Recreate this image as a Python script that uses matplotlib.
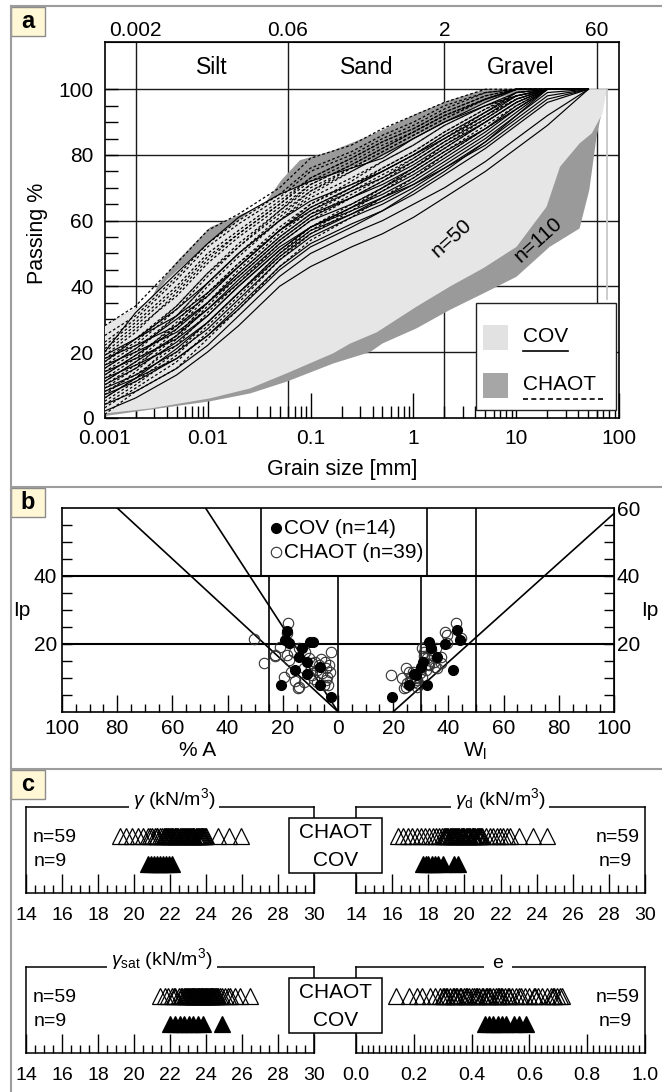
import matplotlib
matplotlib.use('Agg')
import matplotlib.pyplot as plt
from matplotlib.patches import Rectangle
from matplotlib.ticker import FixedLocator, NullLocator, NullFormatter, LogLocator, MultipleLocator, FuncFormatter
import numpy as np

plt.rcParams['font.family'] = ['Liberation Sans', 'DejaVu Sans']
plt.rcParams['mathtext.fontset'] = 'custom'
plt.rcParams['mathtext.rm'] = 'Liberation Sans'
plt.rcParams['mathtext.it'] = 'Liberation Sans:italic'
plt.rcParams['mathtext.bf'] = 'Liberation Sans:bold'

# ---------------- DATA ----------------
# Panel a: grain size curves (passing % at sieve sizes)
sieve_mm = [0.001, 0.002, 0.005, 0.01, 0.02, 0.05, 0.1, 0.25, 0.5, 1, 2, 5, 10, 20, 50]
cov_curves = [
    [2, 6, 13, 20, 28, 40, 46, 52, 56, 61, 67, 75, 82, 89, 100],
    [4, 8, 15, 22, 31, 43, 50, 56, 60, 65, 70, 78, 85, 92, 100],
    [7, 11, 18, 25, 34, 46, 53, 59, 63, 68, 74, 82, 89, 96, 100],
    [9, 13, 20, 27, 36, 48, 55, 61, 65, 70, 76, 84, 91, 98, 100],
    [12, 16, 22, 29, 38, 50, 57, 62, 67, 72, 78, 86, 93, 100, 100],
    [14, 18, 24, 31, 40, 51, 58, 64, 68, 73, 79, 87, 94, 100, 100],
    [16, 20, 26, 33, 42, 53, 60, 65, 70, 75, 81, 88, 95, 100, 100],
    [18, 22, 28, 35, 43, 54, 61, 67, 71, 76, 82, 90, 96, 100, 100],
    [19, 24, 31, 38, 46, 57, 63, 69, 73, 78, 84, 91, 97, 100, 100],
    [10, 15, 23, 31, 40, 51, 58, 64, 69, 74, 80, 88, 94, 100, 100],
    [6, 12, 21, 29, 38, 49, 56, 62, 66, 71, 77, 85, 92, 99, 100],
    [11, 17, 25, 33, 41, 52, 58, 63, 67, 71, 76, 83, 90, 97, 100],
    [15, 21, 30, 37, 46, 57, 64, 70, 75, 80, 85, 92, 98, 100, 100],
    [20, 32, 44, 53, 61, 68, 72, 76, 79, 85, 90, 95, 98, 100, 100],
    [13, 19, 27, 35, 44, 55, 62, 67, 72, 77, 83, 90, 96, 100, 100],
    [8, 12, 18, 25, 33, 45, 52, 58, 63, 69, 75, 84, 92, 100, 100],
    [17, 24, 33, 41, 50, 60, 66, 71, 75, 80, 86, 93, 99, 100, 100],
]
chaot_curves = [
    [28, 34, 47, 57, 62, 70, 79, 83, 88, 92, 96, 100, 100, 100, 100],
    [25, 31, 43, 53, 60, 68, 76, 81, 86, 90, 95, 99, 100, 100, 100],
    [22, 29, 40, 50, 57, 66, 73, 79, 84, 88, 93, 98, 100, 100, 100],
    [20, 27, 37, 47, 55, 64, 71, 77, 82, 87, 92, 97, 100, 100, 100],
    [18, 24, 34, 44, 52, 62, 69, 75, 80, 85, 90, 96, 100, 100, 100],
    [15, 21, 31, 41, 50, 60, 67, 73, 78, 83, 89, 95, 99, 100, 100],
    [13, 19, 28, 38, 47, 58, 65, 71, 76, 81, 87, 94, 98, 100, 100],
    [10, 16, 25, 35, 44, 55, 62, 69, 74, 79, 85, 93, 98, 100, 100],
    [8, 13, 22, 32, 41, 53, 60, 67, 72, 78, 84, 92, 97, 100, 100],
    [5, 11, 20, 29, 38, 50, 58, 65, 70, 76, 82, 90, 96, 100, 100],
    [3, 9, 17, 26, 35, 48, 56, 63, 69, 75, 81, 89, 95, 100, 100],
    [1, 8, 15, 24, 33, 46, 54, 61, 67, 73, 80, 88, 94, 100, 100],
    [12, 18, 29, 40, 49, 60, 68, 75, 80, 85, 90, 96, 100, 100, 100],
    [16, 22, 33, 43, 52, 63, 71, 77, 82, 87, 92, 97, 100, 100, 100],
    [9, 15, 27, 37, 46, 57, 64, 70, 75, 80, 86, 93, 98, 100, 100],
    [6, 12, 24, 34, 43, 54, 61, 68, 73, 79, 85, 92, 97, 100, 100],
    [19, 26, 38, 48, 56, 65, 73, 79, 84, 88, 93, 98, 100, 100, 100],
    [11, 17, 28, 38, 47, 57, 65, 72, 78, 83, 89, 95, 99, 100, 100],
    [4, 10, 19, 28, 37, 49, 57, 64, 70, 76, 83, 91, 97, 100, 100],
    [14, 20, 31, 41, 50, 61, 69, 76, 81, 86, 91, 97, 100, 100, 100],
    [7, 14, 25, 35, 45, 56, 63, 70, 76, 81, 87, 94, 99, 100, 100],
    [17, 23, 34, 44, 53, 63, 70, 76, 81, 86, 91, 97, 100, 100, 100],
    [23, 30, 42, 52, 59, 67, 75, 80, 85, 89, 94, 99, 100, 100, 100],
    [21, 28, 39, 49, 56, 65, 72, 78, 83, 87, 92, 97, 100, 100, 100],
]
# envelopes (n=110 CHAOT, n=50 COV)
chaot_up_d = [0.001, 0.00276, 0.0034, 0.005, 0.0106, 0.0204, 0.035, 0.052, 0.079, 0.167, 0.35, 0.5, 1.07, 2.25, 4.1, 5.5]
chaot_up_p = [28, 35.6, 41, 47.5, 58, 61.7, 64.7, 72.3, 78.4, 81.4, 85.5, 87.6, 92.6, 96.7, 99.2, 100]
chaot_lo_d = [0.001, 0.0106, 0.026, 0.059, 0.166, 0.38, 0.5, 1.07, 2.25, 4.75, 10, 21, 41, 51, 60, 75]
chaot_lo_p = [0.5, 5, 7.4, 11, 16.5, 20, 22.6, 27.2, 32.8, 37.8, 42.9, 52, 57.6, 69.3, 85.5, 100]
cov_up_d = [0.001, 0.00276, 0.004, 0.0106, 0.0258, 0.0586, 0.166, 0.38, 0.5, 1.07, 2.25, 4.75, 10, 15]
cov_up_p = [28, 35.6, 41.9, 53.6, 62.7, 69.3, 74.4, 78.4, 80, 86, 91, 96, 99, 100]
cov_lo_d = [0.001, 0.00276, 0.0106, 0.0258, 0.0586, 0.166, 0.24, 0.44, 1.07, 2.25, 4.75, 10, 19.6, 26.5, 41, 54, 68.6, 75]
cov_lo_p = [1.3, 2.8, 5.9, 8.9, 13.5, 19.6, 22.5, 26, 33.8, 39.9, 45.5, 52, 64.2, 76.4, 83.5, 86.6, 92.6, 100]
class_limits = [0.002, 0.06, 2, 60]
class_limit_labels = ['0.002', '0.06', '2', '60']
class_names = ['Silt', 'Sand', 'Gravel']
class_centers = [0.011, 0.35, 11]

# Panel b: plasticity
cov_clay = [18.4, 19.3, 17.9, 13.0, 10.0, 9.0, 14.2, 11.2, 6.4, 15.4, 11.2, 20.5, 6.4, 2.5]
cov_ip_clay = [23.8, 21.1, 20.1, 18.9, 20.4, 20.6, 16.2, 14.5, 13.3, 12.3, 11.0, 7.9, 7.9, 4.4]
cov_wl = [19.7, 25.7, 32.4, 28.4, 29.9, 30.9, 33.0, 33.8, 36.0, 38.8, 43.0, 44.2, 41.6, 27.6]
cov_ip_wl = [4.4, 7.9, 7.9, 10.8, 13.3, 14.7, 20.4, 18.7, 16.2, 19.9, 24.1, 21.1, 12.3, 11.0]
chaot_clay = [18.1, 18.6, 30.6, 22.7, 26.7, 18.4, 17.9, 14.2, 19.7, 15.5, 14.2, 9.4, 7.6, 4.5, 3.3, 2.5,
              5.7, 4.5, 3.7, 10.6, 8.2, 12.4, 7.6, 5.2, 20.9, 16.0, 11.8, 17.2, 7.0, 9.4, 3.9, 12.4,
              14.5, 23.0, 6.0, 4.8, 10.0, 2.8, 8.8]
chaot_ip_clay = [26.0, 23.3, 21.4, 16.5, 14.3, 16.7, 15.2, 18.7, 10.3, 9.0, 7.4, 14.3, 12.3, 12.8, 13.8, 17.5,
                 11.3, 9.3, 7.9, 15.7, 14.7, 12.8, 8.8, 7.9, 19.1, 17.7, 17.7, 11.8, 13.8, 10.8, 10.3, 8.8,
                 6.9, 16.7, 15.5, 14.6, 12.0, 11.8, 9.6]
chaot_wl = [19.1, 24.7, 25.7, 25.1, 27.5, 28.7, 30.6, 31.1, 31.7, 34.2, 34.7, 33.0, 36.0, 37.2, 38.8, 39.6,
            42.6, 44.5, 29.7, 31.8, 23.3, 24.5, 28.7, 32.4, 35.4, 39.6, 26.6, 33.6, 37.4, 23.8, 30.2, 31.0,
            27.2, 29.5, 32.6, 26.0, 35.0, 30.5, 28.2]
chaot_ip_wl = [10.8, 12.8, 11.8, 8.4, 8.8, 9.3, 10.3, 17.7, 19.1, 16.7, 14.7, 13.8, 12.8, 16.2, 23.6, 22.6,
               26.0, 21.6, 11.3, 12.3, 9.8, 7.4, 7.4, 15.7, 18.7, 20.2, 10.3, 18.2, 14.2, 6.9, 12.6, 16.4,
               11.6, 8.1, 14.0, 9.0, 13.2, 18.8, 10.0]

# Panel c: unit weights and void ratio
gamma_chaot = [19.2, 19.55, 19.9, 20.2, 20.5, 20.75, 21.0, 21.15, 21.3, 21.45, 21.55, 21.65, 21.75, 21.85,
               21.95, 22.0, 22.1, 22.15, 22.25, 22.3, 22.4, 22.45, 22.55, 22.6, 22.7, 22.75, 22.85, 22.9,
               23.0, 23.05, 23.15, 23.2, 23.3, 23.35, 23.45, 23.5, 23.6, 23.65, 23.7, 23.75, 23.8, 23.85,
               23.9, 23.95, 24.0, 22.05, 22.35, 22.65, 22.95, 23.25, 23.55, 21.7, 21.9, 20.9, 21.25,
               24.65, 25.3, 25.95, 23.1]
gamma_cov = [20.75, 20.95, 21.1, 21.3, 21.45, 21.6, 21.8, 21.95, 22.1]
gammad_chaot = [16.3, 16.6, 16.9, 17.1, 17.35, 17.6, 17.8, 18.05, 18.25, 18.45, 18.6, 18.75, 18.85, 18.95,
                19.05, 19.1, 19.2, 19.25, 19.35, 19.4, 19.5, 19.55, 19.65, 19.7, 19.8, 19.85, 19.95, 20.0,
                20.1, 20.15, 20.25, 20.3, 20.4, 20.45, 20.55, 20.6, 20.7, 20.75, 20.85, 20.9, 21.0, 21.2,
                21.4, 21.6, 21.8, 21.95, 22.15, 22.35, 22.5, 23.0, 23.8, 24.6, 19.0, 19.3, 19.6, 19.9,
                20.2, 20.5, 20.8]
gammad_cov = [17.7, 17.85, 18.0, 18.2, 18.35, 18.55, 18.8, 19.45, 19.65]
gammasat_chaot = [21.45, 21.7, 21.9, 22.1, 22.3, 22.5, 22.65, 22.75, 22.85, 22.9, 23.0, 23.05, 23.1, 23.15,
                  23.2, 23.25, 23.3, 23.35, 23.4, 23.45, 23.5, 23.55, 23.6, 23.65, 23.7, 23.75, 23.8, 23.85,
                  23.9, 23.95, 24.0, 24.05, 24.1, 24.15, 24.2, 24.25, 24.3, 24.35, 24.4, 24.45, 24.5, 24.55,
                  24.6, 24.75, 24.9, 25.05, 25.2, 25.35, 25.6, 25.9, 26.45, 22.95, 23.28, 23.62, 23.98,
                  24.32, 24.68, 22.6, 22.2]
gammasat_cov = [22.0, 22.3, 22.55, 22.8, 23.05, 23.3, 23.55, 23.85, 24.9]
e_chaot = [0.14, 0.185, 0.21, 0.23, 0.255, 0.275, 0.29, 0.3, 0.31, 0.315, 0.325, 0.335, 0.34, 0.35, 0.36,
           0.365, 0.375, 0.385, 0.39, 0.4, 0.41, 0.415, 0.425, 0.435, 0.44, 0.45, 0.46, 0.465, 0.475, 0.485,
           0.49, 0.5, 0.505, 0.515, 0.525, 0.54, 0.555, 0.57, 0.585, 0.6, 0.615, 0.63, 0.645, 0.66, 0.675,
           0.685, 0.695, 0.705, 0.712, 0.305, 0.345, 0.38, 0.42, 0.455, 0.495, 0.53, 0.565, 0.62, 0.68]
e_cov = [0.445, 0.46, 0.475, 0.49, 0.505, 0.52, 0.545, 0.565, 0.588]

# ---------------- FIGURE ----------------
W, H = 662, 1092
fig = plt.figure(figsize=(W / 100, H / 100), dpi=100)


def add_ax(x0, y0, x1, y1):
    return fig.add_axes([x0 / W, 1 - y1 / H, (x1 - x0) / W, (y1 - y0) / H])


# ---- Panel a ----
axa = add_ax(104.6, 42.3, 619.4, 417.7)
axa.set_xscale('log')
axa.set_xlim(0.001, 100)
axa.set_ylim(0, 114.3)
for y in [20, 40, 60, 80, 100]:
    axa.axhline(y, color='#1a1a1a', lw=1.0, zorder=1)
for x in class_limits:
    axa.axvline(x, color='#1a1a1a', lw=1.0, zorder=1)
axa.plot([75, 75], [36, 100], color='#c8c8c8', lw=1.3, zorder=1)
axa.fill(np.r_[chaot_up_d, chaot_lo_d[::-1]], np.r_[chaot_up_p, chaot_lo_p[::-1]],
         color='#9a9a9a', lw=0, zorder=2)
axa.fill(np.r_[cov_up_d, cov_lo_d[::-1]], np.r_[cov_up_p, cov_lo_p[::-1]],
         color='#e6e6e6', lw=0, zorder=3)
for c in chaot_curves:
    axa.plot(sieve_mm, c, color='k', lw=0.9, ls=(0, (2.2, 1.8)), zorder=4)
for c in cov_curves:
    axa.plot(sieve_mm, c, color='k', lw=0.85, zorder=4)
for name, xc in zip(class_names, class_centers):
    axa.text(xc, 106.5, name, ha='center', va='center', fontsize=16.5)

axa.set_xticks([0.001, 0.01, 0.1, 1, 10, 100], labels=['0.001', '0.01', '0.1', '1', '10', '100'])
axa.xaxis.set_minor_locator(LogLocator(base=10, subs=np.arange(2, 10), numticks=20))
axa.xaxis.set_minor_formatter(NullFormatter())
axa.tick_params(axis='x', which='major', direction='in', length=18, width=1, labelsize=15, pad=8, top=False)
axa.tick_params(axis='x', which='minor', direction='in', length=9, width=1, top=False)
axa.set_yticks([0, 20, 40, 60, 80, 100])
axa.yaxis.set_minor_locator(FixedLocator([v for v in range(5, 100, 5) if v % 20]))
axa.tick_params(axis='y', which='both', direction='in', length=9, width=1, labelsize=15, pad=8, right=False)
sec = axa.secondary_xaxis('top')
sec.set_xticks(class_limits, labels=class_limit_labels)
sec.xaxis.set_minor_locator(NullLocator())
sec.tick_params(length=0, labelsize=15, pad=2)
for s in axa.spines.values():
    s.set_linewidth(1.2)
axa.set_xlabel('Grain size [mm]', fontsize=15.5)
axa.xaxis.set_label_coords(0.461, -0.11)
axa.set_ylabel('Passing %', fontsize=15.5)
axa.yaxis.set_label_coords(-0.11, 0.49)

# ---- Panel b ----
axb = add_ax(62, 508, 614, 711.7)
axb.set_xlim(-100, 100)
axb.set_ylim(0, 60)
axb.axhline(20, color='k', lw=1.5, zorder=1)
axb.axhline(40, color='k', lw=1.5, zorder=1)
for xv, ybot, ytop in [(-25, 0, 40), (0, 0, 40), (30, 0, 40), (50, 0, 60), (-27.9, 40, 60), (32.2, 40, 60)]:
    axb.plot([xv, xv], [ybot, ytop], color='k', lw=1.2, zorder=1)
axb.plot([0, -80], [0, 60], color='k', lw=1.2, zorder=1)
axb.plot([0, -48], [0, 60], color='k', lw=1.2, zorder=1)
axb.plot([20, 100], [0, 0.73 * 80], color='k', lw=1.2, zorder=1)
axb.plot(-np.array(chaot_clay), chaot_ip_clay, 'o', ms=7.5, mfc='none', mec='#333333', mew=0.8, zorder=3)
axb.plot(chaot_wl, chaot_ip_wl, 'o', ms=7.5, mfc='none', mec='#333333', mew=0.8, zorder=3)
axb.plot(-np.array(cov_clay), cov_ip_clay, 'o', ms=7, mfc='k', mec='k', zorder=4)
axb.plot(cov_wl, cov_ip_wl, 'o', ms=7, mfc='k', mec='k', zorder=4)
axb.plot([-22.5], [54.1], 'o', ms=7, mfc='k', mec='k')
axb.plot([-22.5], [47.0], 'o', ms=7.5, mfc='none', mec='#333333', mew=0.8)
axb.text(-19.6, 54.1, 'COV (n=14)', va='center', ha='left', fontsize=15)
axb.text(-19.6, 47.0, 'CHAOT (n=39)', va='center', ha='left', fontsize=15)
axb.xaxis.set_major_locator(FixedLocator(list(range(-100, 101, 20))))
axb.xaxis.set_major_formatter(FuncFormatter(lambda v, p: '%d' % abs(round(v))))
axb.xaxis.set_minor_locator(MultipleLocator(5))
axb.tick_params(axis='x', which='major', direction='in', length=12, width=1, labelsize=15, pad=5)
axb.tick_params(axis='x', which='minor', direction='in', length=6, width=1)
axb.set_yticks([20, 40])
axb.yaxis.set_minor_locator(FixedLocator([5, 10, 15, 25, 30, 35, 45, 50, 55]))
axb.tick_params(axis='y', which='both', direction='in', length=7, width=1, labelsize=15, pad=3.5,
                left=True, right=True)
secb = axb.secondary_yaxis('right')
secb.set_yticks([20, 40, 60])
secb.yaxis.set_minor_locator(NullLocator())
secb.tick_params(length=0, labelsize=15, pad=2)
for s in axb.spines.values():
    s.set_linewidth(1.2)

# ---- Panel c ----
def strip(box, xlim, major, minor, fmt, chaot_vals, cov_vals):
    ax = add_ax(*box)
    ax.set_xlim(*xlim)
    ax.set_ylim(0, 1)
    ax.set_yticks([])
    ax.xaxis.set_major_locator(MultipleLocator(major))
    ax.xaxis.set_minor_locator(MultipleLocator(minor))
    ax.xaxis.set_major_formatter(FuncFormatter(lambda v, p: fmt % v))
    ax.tick_params(axis='x', which='major', direction='in', length=14, width=1, labelsize=14, pad=10)
    ax.tick_params(axis='x', which='minor', direction='in', length=6, width=1)
    ax.plot(chaot_vals, np.full(len(chaot_vals), 0.665), ls='none', marker='^', ms=11,
            mfc='none', mec='k', mew=0.9, clip_on=False)
    ax.plot(cov_vals, np.full(len(cov_vals), 0.335), ls='none', marker='^', ms=11,
            mfc='k', mec='k', mew=0.9, clip_on=False)
    for s in ax.spines.values():
        s.set_linewidth(1.1)
    return ax

strip((26, 807, 314, 893), (14, 30), 2, 0.5, '%d', gamma_chaot, gamma_cov)
strip((356, 807, 645, 893), (14, 30), 2, 0.5, '%d', gammad_chaot, gammad_cov)
strip((26, 967, 314, 1053), (14, 30), 2, 0.5, '%d', gammasat_chaot, gammasat_cov)
strip((356, 967, 645, 1053), (0, 1), 0.2, 0.02, '%.1f', e_chaot, e_cov)

# ---- Overlay (frame, panel labels, legend, annotations) ----
ov = fig.add_axes([0, 0, 1, 1])
ov.set_xlim(0, W)
ov.set_ylim(H, 0)
ov.axis('off')
ov.set_zorder(10)
ov.patch.set_alpha(0)

fc = '#9c9c9c'
ov.plot([10.5, W], [6, 6], color=fc, lw=1.5)
ov.plot([10.5, 10.5], [6, H], color=fc, lw=1.5)
ov.plot([10.5, W], [487, 487], color=fc, lw=1.5)
ov.plot([10.5, W], [769, 769], color=fc, lw=1.5)
for lab, y0 in [('a', 7), ('b', 488), ('c', 770)]:
    ov.add_patch(Rectangle((10.5, y0), 34, 29, fc='#fff7d6', ec='#8c8c8c', lw=1))
    ov.text(27.5, y0 + 14.5, lab, ha='center', va='center', fontsize=17, fontweight='bold')

# legend panel a
ov.add_patch(Rectangle((476, 303), 140, 107, fc='white', ec='#222222', lw=1))
ov.add_patch(Rectangle((483, 325), 25, 25, fc='#e2e2e2', ec='none'))
ov.add_patch(Rectangle((483, 373), 25, 25, fc='#a6a6a6', ec='none'))
ov.text(523, 337, 'COV', va='center', ha='left', fontsize=15)
ov.plot([523, 568], [350.5, 350.5], color='k', lw=1.2)
ov.text(523, 385, 'CHAOT', va='center', ha='left', fontsize=15)
ov.plot([523, 604], [398.5, 398.5], color='k', lw=1.2, ls=(0, (3, 2)))
ov.text(451.7, 238.3, 'n=50', rotation=42, ha='center', va='center', fontsize=15)
ov.text(538.3, 239.3, 'n=110', rotation=42, ha='center', va='center', fontsize=15)

# panel b labels
ov.text(22, 610, 'Ip', ha='center', va='center', fontsize=15)
ov.text(650, 610, 'Ip', ha='center', va='center', fontsize=15)
ov.text(198, 750, '% A', ha='center', va='center', fontsize=15)
ov.text(475, 751, r'W$_\mathrm{l}$', ha='center', va='center', fontsize=15)

# panel c annotations
tb = dict(fc='white', ec='none', pad=3)
ov.text(174, 799, r'$\gamma$ (kN/m$^3$)', ha='center', va='center', fontsize=14, bbox=tb)
ov.text(500, 799, r'$\gamma_\mathrm{d}$ (kN/m$^3$)', ha='center', va='center', fontsize=14, bbox=tb)
ov.text(162, 959, r'$\gamma_\mathrm{sat}$ (kN/m$^3$)', ha='center', va='center', fontsize=14, bbox=tb)
ov.text(498, 963, 'e', ha='center', va='center', fontsize=14, bbox=dict(fc='white', ec='none', pad=6))
for ytop in [818, 978]:
    ov.add_patch(Rectangle((289, ytop), 93, 55, fc='white', ec='k', lw=1.1))
    ov.text(335.5, ytop + 14, 'CHAOT', ha='center', va='center', fontsize=15)
    ov.text(335.5, ytop + 43, 'COV', ha='center', va='center', fontsize=15)
for yr in [838, 998]:
    ov.text(33, yr, 'n=59', ha='left', va='center', fontsize=14)
    ov.text(34, yr + 24, 'n=9', ha='left', va='center', fontsize=14)
    ov.text(596, yr, 'n=59', ha='left', va='center', fontsize=14)
    ov.text(599, yr + 24, 'n=9', ha='left', va='center', fontsize=14)

fig.savefig('out.png', dpi=100)
